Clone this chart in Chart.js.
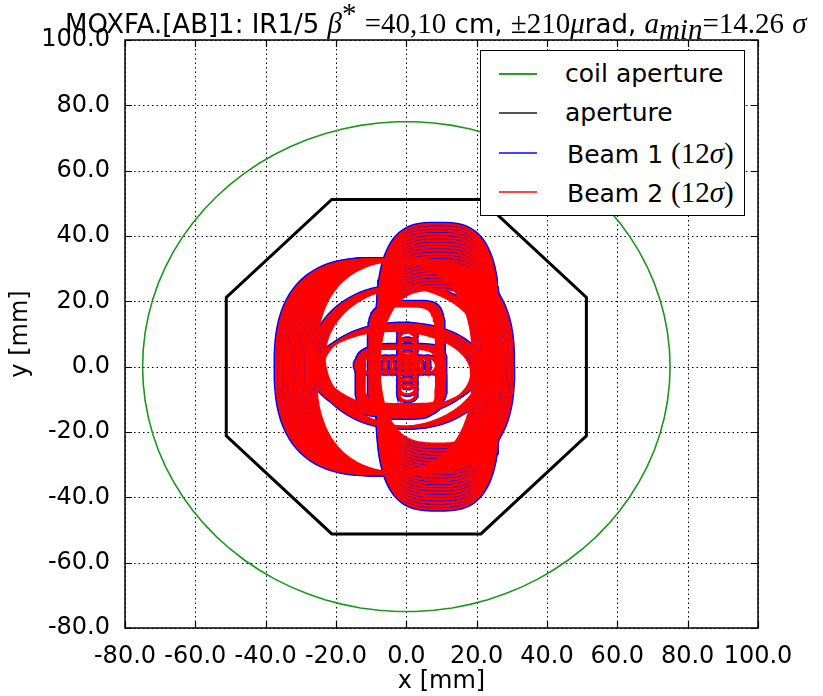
<!DOCTYPE html>
<html><head><meta charset="utf-8">
<script src="https://cdn.jsdelivr.net/npm/chart.js@4"></script>
<style>
html,body{margin:0;padding:0;background:#fff;}
#wrap{position:relative;width:823px;height:696px;overflow:hidden;}
#c{position:absolute;left:0;top:0;}
#title{position:absolute;left:65px;top:8px;font-family:"DejaVu Sans";font-size:26px;white-space:nowrap;color:#000;line-height:30px;}
.mi{font-family:"Liberation Serif";font-style:italic;font-size:29px;}
.mr{font-family:"Liberation Serif";font-size:29px;}
sup,sub{font-size:19px;line-height:0;}
#legend{position:absolute;left:480px;top:50px;width:265px;height:166px;border:1.5px solid #000;background:#fff;box-sizing:border-box;font-family:"DejaVu Sans";font-size:25px;color:#000;}
.row{position:absolute;left:0;height:30px;width:100%;}
.sw{position:absolute;left:18px;top:14px;width:38px;height:2px;}
.lt{position:absolute;left:84px;top:0;line-height:30px;white-space:nowrap;}
</style></head>
<body><div id="wrap">
<canvas id="c" width="823" height="696"></canvas>
<div id="title">MOXFA.[AB]1: IR1/5 <span class="mi">β</span><sup class="mr">*</sup> <span class="mr">=40,10</span> cm, <span class="mr">±210</span><span class="mi">μ</span>rad, <span class="mi">a</span><sub class="mi">min</sub><span class="mr">=14.26</span> <span class="mi">σ</span></div>
<div id="legend">
 <div class="row" style="top:8px"><div class="sw" style="background:#2a9a2a"></div><div class="lt">coil aperture</div></div>
 <div class="row" style="top:47px"><div class="sw" style="background:#555"></div><div class="lt">aperture</div></div>
 <div class="row" style="top:87px"><div class="sw" style="background:#4444ff"></div><div class="lt" style="left:86px">Beam 1 <span class="mr">(12<i>σ</i>)</span></div></div>
 <div class="row" style="top:126px"><div class="sw" style="background:#ff4444"></div><div class="lt" style="left:86px">Beam 2 <span class="mr">(12<i>σ</i>)</span></div></div>
</div>
</div>
<script>
// ---- axes ----
const axisMin = -80, axisMax = 100, axisStep = 20;

// ---- apertures (mm) ----
const coilRadius = 75;
const apertureX = [21.2, 51.2, 51.2, 21.2, -21.2, -51.2, -51.2, -21.2, 21.2];
const apertureY = [51.2, 21.2, -21.2, -51.2, -51.2, -21.2, 21.2, 51.2, 51.2];

// ---- beam envelopes (mm): centres, and [half-width, half-height, squareness] ----
// wide family, displaced horizontally
const wideCx = [-9.0,-8.3,-7.6,-6.9,-6.2,-5.5,-4.8,-4.1,-3.4,-2.7,-2.0,-1.3,-0.6,0.1,0.8,1.5,2.2];
const wideCy = [0,0,0,0,0,0,0,0,0,0,0,0,0,0,0,0,0];
const wideSizeB2 = [28, 32.8, 2.6];
const wideSizeB1 = [28.5, 33.3, 2.6];
// tall family, displaced vertically
const tallCx = [9,9,9,9,9,9,9,9,9,9,9,9,9,9,9,9,9,9,9,9,9];
const tallCy = [-10,-9,-8,-7,-6,-5,-4,-3,-2,-1,0,1,2,3,4,5,6,7,8,9,10];
const tallSizeB2 = [17, 33.6, 3];
const tallSizeB1 = [17.5, 34.1, 3];
// round envelope
const roundCx = [-2.0, -1.2, -0.4, 0.4, 1.2];
const roundCy = [3, 3, 3, 3, 3];
const roundSizeB2 = [24.5, 21.5, 2];
const roundSizeB1 = [25.0, 22.0, 2];
// horizontal ellipse
const flatCx = [-4.0, -3.3, -2.6, -1.9, -1.2];
const flatCy = [-2.0, -1.5, -1.0, -0.5, 0];
const flatSizeB2 = [22.5, 13, 2];
const flatSizeB1 = [23.0, 13.5, 2];
// rounded rectangles
const rectACx = [-1.0, -0.5, 0, 0.5, 1.0];
const rectACy = [1.5, 1.8, 2.1, 2.4, 2.7];
const rectASizeB2 = [9.5, 17, 5];
const rectASizeB1 = [10.0, 17.5, 5];
const rectBCx = [-2.5, -2, -1.5, -1, -0.5];
const rectBCy = [-3.5, -3.2, -3, -2.8, -2.5];
const rectBSizeB2 = [11.5, 9, 5];
const rectBSizeB1 = [12.0, 9.5, 5];
// small beams forming the cross
const crossVCx = [0.3,0.3,0.3,0.3,0.3,0.3,0.3,0.3,0.3,0.3];
const crossVCy = [-8,-6,-4,-2,0,2,4,6,8,10.5];
const crossHCx = [-12,-10,-8,-6,-4,-2,0,2,4,6,8.3];
const crossHCy = [0.5,0.5,0.5,0.5,0.5,0.5,0.5,0.5,0.5,0.5,0.5];
const crossSizeB2 = [2.5, 2.5, 2];
const crossSizeB1 = [3.0, 3.0, 2];

function outline(cx, cy, a, b, n) {
  const pts = [];
  const N = 90;
  for (let i = 0; i <= N; i++) {
    const t = 2 * Math.PI * i / N;
    const c = Math.cos(t), s = Math.sin(t);
    pts.push({x: cx + a * Math.sign(c) * Math.pow(Math.abs(c), 2 / n),
              y: cy + b * Math.sign(s) * Math.pow(Math.abs(s), 2 / n)});
  }
  return pts;
}
function family(cxs, cys, size, color, width, order) {
  return cxs.map((cx, i) => ({
    data: outline(cx, cys[i], size[0], size[1], size[2]),
    borderColor: color, borderWidth: width, showLine: true, pointRadius: 0, fill: false, order
  }));
}
const groups = [
  [wideCx, wideCy, wideSizeB1, wideSizeB2],
  [tallCx, tallCy, tallSizeB1, tallSizeB2],
  [roundCx, roundCy, roundSizeB1, roundSizeB2],
  [flatCx, flatCy, flatSizeB1, flatSizeB2],
  [rectACx, rectACy, rectASizeB1, rectASizeB2],
  [rectBCx, rectBCy, rectBSizeB1, rectBSizeB2],
  [crossVCx, crossVCy, crossSizeB1, crossSizeB2],
  [crossHCx, crossHCy, crossSizeB1, crossSizeB2]
];
const datasets = [];
datasets.push({data: outline(0, 0, coilRadius, coilRadius, 2), borderColor: '#1e951e', borderWidth: 1.6, showLine: true, pointRadius: 0, order: 3});
datasets.push({data: apertureX.map((x, i) => ({x, y: apertureY[i]})), borderColor: '#000', borderWidth: 3, showLine: true, pointRadius: 0, order: 3});
groups.forEach(g => datasets.push(...family(g[0], g[1], g[2], '#0000ff', 2, 2)));
groups.forEach(g => datasets.push(...family(g[0], g[1], g[3], '#ff0000', 2.6, 1)));

const frame = {
  id: 'frame',
  beforeDatasetsDraw(chart) {
    const {ctx, chartArea: a, scales: {x, y}} = chart;
    ctx.save();
    ctx.strokeStyle = '#000'; ctx.lineWidth = 1; ctx.setLineDash([1.5, 3]);
    x.ticks.forEach(t => { const p = Math.round(x.getPixelForValue(t.value)) + 0.5;
      ctx.beginPath(); ctx.moveTo(p, a.top); ctx.lineTo(p, a.bottom); ctx.stroke(); });
    y.ticks.forEach(t => { const p = Math.round(y.getPixelForValue(t.value)) + 0.5;
      ctx.beginPath(); ctx.moveTo(a.left, p); ctx.lineTo(a.right, p); ctx.stroke(); });
    ctx.restore();
  },
  afterDatasetsDraw(chart) {
    const {ctx, chartArea: a, scales: {x, y}} = chart;
    ctx.save();
    ctx.strokeStyle = '#000'; ctx.lineWidth = 1.2; ctx.setLineDash([]);
    const L = 7;
    x.ticks.forEach(t => { const p = Math.round(x.getPixelForValue(t.value)) + 0.5;
      ctx.beginPath(); ctx.moveTo(p, a.bottom); ctx.lineTo(p, a.bottom - L);
      ctx.moveTo(p, a.top); ctx.lineTo(p, a.top + L); ctx.stroke(); });
    y.ticks.forEach(t => { const p = Math.round(y.getPixelForValue(t.value)) + 0.5;
      ctx.beginPath(); ctx.moveTo(a.left, p); ctx.lineTo(a.left + L, p);
      ctx.moveTo(a.right, p); ctx.lineTo(a.right - L, p); ctx.stroke(); });
    ctx.lineWidth = 1.5;
    ctx.strokeRect(a.left, a.top, a.right - a.left, a.bottom - a.top);
    ctx.restore();
  }
};

const tickFont = {family: 'DejaVu Sans', size: 24};
new Chart(document.getElementById('c'), {
  type: 'scatter',
  data: {datasets},
  options: {
    responsive: false, animation: false, events: [],
    layout: {padding: {left: 0, right: 65, top: 40, bottom: 0}},
    plugins: {legend: {display: false}, tooltip: {enabled: false}},
    elements: {line: {tension: 0}},
    scales: {
      x: {type: 'linear', min: axisMin, max: axisMax,
          ticks: {stepSize: axisStep, color: '#000', font: tickFont, padding: 6, maxRotation: 0, autoSkip: false,
                  callback: v => v.toFixed(1)},
          grid: {display: false}, border: {display: false},
          title: {display: true, text: 'x [mm]', color: '#000', font: {family: 'DejaVu Sans', size: 24}, padding: {top: 0, bottom: 0}},
          afterFit: s => { s.height = 68; }},
      y: {type: 'linear', min: axisMin, max: axisMax,
          ticks: {stepSize: axisStep, color: '#000', font: tickFont, padding: 7, autoSkip: false,
                  callback: v => v.toFixed(1)},
          grid: {display: false}, border: {display: false},
          title: {display: true, text: 'y [mm]', color: '#000', font: {family: 'DejaVu Sans', size: 24}, padding: {top: 6, bottom: 0}},
          afterFit: s => { s.width = 125; }}
    }
  },
  plugins: [frame]
});
</script>
</body></html>
